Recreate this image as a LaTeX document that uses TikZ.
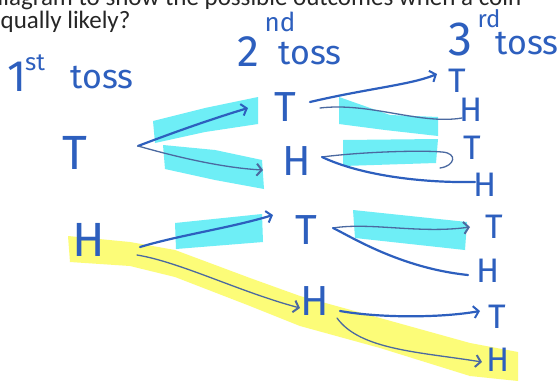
\documentclass[tikz,border=0pt]{standalone}
\usepackage{fontspec}
\setmainfont{Carlito}
\newfontfamily\hand{Fira Sans}
\usetikzlibrary{arrows.meta}
\definecolor{ink}{RGB}{45,95,190}
\definecolor{inkthin}{RGB}{75,105,160}
\definecolor{hlcyan}{RGB}{110,238,246}
\definecolor{hlyellow}{RGB}{252,252,120}
\tikzset{
  hw/.style={text=ink, inner sep=0pt, font=\hand\fontsize{#1}{#1}\selectfont},
  conn/.style={draw=ink, line width=2.2pt, line cap=round},
  thinconn/.style={draw=inkthin, line width=1.3pt, line cap=round},
  barb/.style={-{Straight Barb[length=5pt,width=12pt,line width=2pt]}},
  hlc/.style={fill=hlcyan, draw=none},
  hly/.style={fill=hlyellow, draw=none},
  prose/.style={anchor=base west, inner sep=0pt, text=black!85, font=\fontsize{25}{25}\selectfont}
}
\begin{document}
\begin{tikzpicture}[x=1pt,y=-1pt]
\useasboundingbox (0,0) rectangle (558,381);
\clip (0,0) rectangle (558,381);
\fill[white] (0,0) rectangle (558,381);

% printed question
\node[prose] (q1) at (-10,5) {diagram to show the possible outcomes when a coin};
\node[prose] (q2) at (-12,28) {equally likely?};

% highlights
\fill[hlc] (153,121) -- (205,108) -- (258,97) -- (258,124) -- (205,132) -- (155,143) -- cycle;
\fill[hlc] (163,145) -- (215,150) -- (262,160) -- (264,189) -- (215,180) -- (165,169) -- cycle;
\fill[hlc] (339,97) -- (390,115) -- (438,117) -- (438,136) -- (385,130) -- (339,124) -- cycle;
\fill[hlc] (343,140) -- (438,139) -- (436,163) -- (343,166) -- cycle;
\fill[hlc] (175,223) -- (262,214) -- (263,242) -- (176,249) -- cycle;
\fill[hlc] (353,210) -- (467,222) -- (465,250) -- (355,238) -- cycle;
\fill[hly] (68,236) -- (130,242) -- (175,250) -- (250,278) -- (300,296) -- (380,318) -- (470,343) -- (518,352)
  -- (518,381) -- (470,376) -- (380,348) -- (300,326) -- (250,306) -- (175,277) -- (130,266) -- (70,262) -- cycle;

% headings
\node[hw=44] (one) at (17,77) {1};
\node[hw=24] (st) at (35,63) {st};
\node[hw=34] (toss1) at (102,78) {toss};
\node[hw=44] (two) at (248,52) {2};
\node[hw=26] (nd) at (280,22) {nd};
\node[hw=34] (toss2) at (310,54) {toss};
\node[hw=48] (three) at (460,39) {3};
\node[hw=24] (rd) at (489,19) {rd};
\node[hw=34] (toss3) at (527,44) {toss};

% tree letters
\node[hw=48] (t1) at (75,153) {T};
\node[hw=48] (h1) at (89,240) {H};
\node[hw=42] (tt) at (285,107) {T};
\node[hw=42] (th) at (297,161) {H};
\node[hw=42] (ht) at (306,230) {T};
\node[hw=42] (hh) at (315,301) {H};
\node[hw=34] (ttt) at (457,81) {T};
\node[hw=34] (tth) at (471,110) {H};
\node[hw=34] (tht) at (472,148) {T};
\node[hw=34] (thh) at (485,185) {H};
\node[hw=34] (htt) at (494,227) {T};
\node[hw=34] (hth) at (488,271) {H};
\node[hw=34] (hht) at (497,317) {T};
\node[hw=34] (hhh) at (498,360) {H};

% branch end points
\coordinate (t1v) at (138,146);
\coordinate (h1a) at (140,247);
\coordinate (h1b) at (137,255);
\coordinate (tta) at (310,102);
\coordinate (ttb) at (320,108);
\coordinate (tha) at (322,157);
\coordinate (hta) at (333,228);
\coordinate (hha) at (340,311);
\coordinate (hhb) at (337,318);

% connectors
\draw[conn,barb] (t1v) .. controls (180,130) and (215,118) .. (248,108);
\draw[thinconn,barb] (t1v) .. controls (180,158) and (225,168) .. (263,170);
\draw[conn,barb] (tta) .. controls (370,88) and (410,85) .. (437,74);
\draw[thinconn] (ttb) .. controls (370,102) and (420,125) .. (462,118);
\draw[thinconn] (tha) .. controls (360,152) and (420,150) .. (442,152) .. controls (458,153) and (455,166) .. (440,168);
\draw[conn] (tha) .. controls (360,175) and (420,183) .. (475,182);
\draw[conn,barb] (h1a) .. controls (180,235) and (230,228) .. (273,215);
\draw[thinconn,barb] (h1b) .. controls (180,262) and (240,292) .. (300,308);
\draw[thinconn,barb] (hta) .. controls (370,222) and (420,234) .. (470,227);
\draw[conn] (hta) .. controls (350,236) and (400,268) .. (468,275);
\draw[conn,barb] (hha) .. controls (380,318) and (440,318) .. (480,311);
\draw[thinconn,barb] (hhb) .. controls (360,350) and (420,352) .. (482,362);
\end{tikzpicture}
\end{document}
